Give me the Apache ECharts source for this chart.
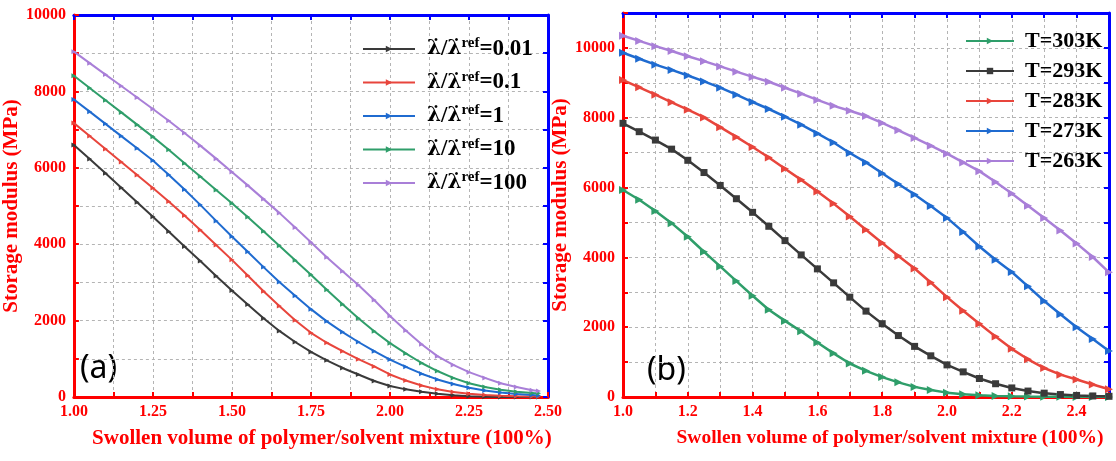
<!DOCTYPE html>
<html>
<head>
<meta charset="utf-8">
<title>Storage modulus vs swollen volume</title>
<script src="https://cdn.jsdelivr.net/npm/echarts@6/dist/echarts.min.js"></script>
<style>
  html, body { margin: 0; padding: 0; background: #fff; }
  #chart { width: 1116px; height: 461px; }
</style>
</head>
<body>
<div id="chart"></div>
<script>
// panel (a): strain-rate ratios
var xA = [1.00, 1.05, 1.10, 1.15, 1.20, 1.25, 1.30, 1.35, 1.40, 1.45, 1.50, 1.55, 1.60, 1.65, 1.70, 1.75,
          1.80, 1.85, 1.90, 1.95, 2.00, 2.05, 2.10, 2.15, 2.20, 2.25, 2.30, 2.35, 2.40, 2.45, 2.47];
var rate001 = [6600, 6230, 5860, 5480, 5100, 4720, 4330, 3940, 3560, 3170, 2790, 2420, 2060, 1730, 1440, 1180,
               960, 760, 590, 420, 290, 200, 140, 85, 45, 20, 8, 2, 0, 0, 0];
var rate01 = [7170, 6830, 6490, 6150, 5810, 5470, 5120, 4750, 4370, 3980, 3590, 3180, 2770, 2380, 2010, 1680,
              1420, 1200, 990, 800, 590, 430, 300, 200, 130, 85, 55, 35, 20, 12, 10];
var rate1 = [7790, 7470, 7150, 6830, 6510, 6190, 5820, 5430, 5030, 4610, 4200, 3800, 3400, 3010, 2650, 2300,
             1980, 1700, 1440, 1200, 980, 790, 610, 460, 340, 240, 170, 115, 80, 50, 40];
var rate10 = [8410, 8090, 7770, 7450, 7130, 6810, 6470, 6120, 5770, 5420, 5070, 4710, 4340, 3960, 3580, 3200,
              2810, 2430, 2060, 1720, 1410, 1140, 890, 680, 500, 360, 260, 190, 140, 105, 95];
var rate100 = [9040, 8740, 8440, 8140, 7840, 7540, 7230, 6910, 6580, 6240, 5890, 5540, 5180, 4820, 4440, 4050,
               3660, 3290, 2930, 2540, 2120, 1740, 1380, 1070, 840, 650, 500, 360, 260, 175, 155];
var rateNames = ['0.01', '0.1', '1', '10', '100'];

// panel (b): temperatures
var xB = [1.00, 1.05, 1.10, 1.15, 1.20, 1.25, 1.30, 1.35, 1.40, 1.45, 1.50, 1.55, 1.60, 1.65, 1.70, 1.75,
          1.80, 1.85, 1.90, 1.95, 2.00, 2.05, 2.10, 2.15, 2.20, 2.25, 2.30, 2.35, 2.40, 2.45, 2.50];
var t303 = [5930, 5650, 5330, 4980, 4590, 4160, 3740, 3320, 2900, 2500, 2180, 1880, 1560, 1250, 960, 750,
            570, 420, 290, 200, 125, 80, 50, 30, 20, 12, 8, 5, 3, 2, 1];
var t293 = [7840, 7600, 7360, 7100, 6780, 6430, 6060, 5680, 5290, 4890, 4480, 4070, 3670, 3270, 2860, 2460,
            2100, 1760, 1450, 1180, 920, 720, 530, 380, 260, 170, 110, 70, 45, 30, 20];
var t283 = [9080, 8870, 8660, 8440, 8230, 8010, 7730, 7450, 7160, 6860, 6540, 6220, 5890, 5540, 5170, 4790,
            4410, 4040, 3680, 3280, 2860, 2470, 2100, 1730, 1380, 1080, 830, 640, 500, 360, 220];
var t273 = [9860, 9690, 9520, 9370, 9210, 9040, 8860, 8660, 8450, 8250, 8030, 7800, 7550, 7290, 6990, 6720,
            6410, 6100, 5800, 5470, 5130, 4730, 4310, 3930, 3580, 3170, 2750, 2370, 2000, 1660, 1320];
var t263 = [10350, 10200, 10050, 9910, 9760, 9620, 9470, 9320, 9170, 9030, 8860, 8690, 8510, 8340, 8200, 8050,
            7850, 7640, 7420, 7200, 6970, 6720, 6470, 6160, 5830, 5480, 5130, 4770, 4400, 4010, 3570];
var tempNames = ['T=303K', 'T=293K', 'T=283K', 'T=273K', 'T=263K'];

var RED = '#ff0000', BLUE = '#0000ff';
var C_BLACK = '#3a3a3a', C_RED = '#e8453c', C_BLUE = '#1f6bd0', C_GREEN = '#2f9e6a', C_PURPLE = '#a97fd8';
var serif = '"Liberation Serif", "Times New Roman", "DejaVu Serif", serif';
var xTitle = 'Swollen volume of polymer/solvent mixture (100%)';
var yTitle = 'Storage modulus (MPa)';

function pairs(xs, ys) {
    return xs.map(function (x, i) { return [x, ys[i]]; });
}

function gridLine() {
    return { show: true, lineStyle: { color: '#b4b4b4', type: [3, 3], width: 1 } };
}

function mainX(gi, step, fmt, shift, size) {
    return {
        type: 'value', gridIndex: gi, min: 1, max: 2.5, interval: step,
        name: xTitle, nameLocation: 'middle', nameGap: 31,
        nameTextStyle: { color: RED, fontFamily: serif, fontWeight: 'bold', fontSize: size, padding: [0, 0, 0, shift] },
        axisLine: { onZero: false, lineStyle: { color: RED, width: 3 } },
        axisTick: { inside: true, length: 5, lineStyle: { color: RED, width: 2 } },
        axisLabel: { color: RED, fontFamily: serif, fontWeight: 'bold', fontSize: 16, margin: 7, formatter: fmt },
        splitLine: gridLine()
    };
}

function mainY(gi, max, gap) {
    return {
        type: 'value', gridIndex: gi, min: 0, max: max, interval: 1000,
        name: yTitle, nameLocation: 'middle', nameGap: gap,
        nameTextStyle: { color: RED, fontFamily: serif, fontWeight: 'bold', fontSize: 21 },
        axisLine: { onZero: false, lineStyle: { color: RED, width: 3 } },
        axisTick: { inside: true, length: 5, lineStyle: { color: RED, width: 2 } },
        axisLabel: {
            color: RED, fontFamily: serif, fontWeight: 'bold', fontSize: 16, margin: 8,
            formatter: function (v) { return v % 2000 === 0 ? String(v) : ''; }
        },
        splitLine: gridLine()
    };
}

// blue frame axes (top / right), no labels
function frameX(gi, step) {
    return {
        type: 'value', gridIndex: gi, position: 'top', min: 1, max: 2.5, interval: step,
        axisLine: { onZero: false, lineStyle: { color: BLUE, width: 3 } },
        axisTick: { inside: true, length: 5, lineStyle: { color: BLUE, width: 2 } },
        axisLabel: { show: false }, splitLine: { show: false }
    };
}
function frameY(gi, max) {
    return {
        type: 'value', gridIndex: gi, position: 'right', min: 0, max: max, interval: 1000,
        axisLine: { onZero: false, lineStyle: { color: BLUE, width: 3 } },
        axisTick: { inside: true, length: 5, lineStyle: { color: BLUE, width: 2 } },
        axisLabel: { show: false }, splitLine: { show: false }
    };
}

function lineSeries(name, gi, data, color, symbol, size, width) {
    return {
        name: name, type: 'line', xAxisIndex: gi, yAxisIndex: gi, data: data,
        symbol: symbol, symbolSize: size, symbolRotate: symbol === 'triangle' ? -90 : 0,
        lineStyle: { color: color, width: width },
        itemStyle: { color: color },
        z: 3
    };
}

var lam = '\u03BB\u0307';
var chart = echarts.init(document.getElementById('chart'));
var option = {
    backgroundColor: '#fff',
    animation: false,
    grid: [
        { left: 72, right: 568, top: 15, bottom: 64 },
        { left: 623, right: 7, top: 13, bottom: 64 }
    ],
    xAxis: [
        mainX(0, 0.125, function (v) { return Math.abs(v * 4 - Math.round(v * 4)) < 1e-6 ? v.toFixed(2) : ''; }, 22, 21),
        mainX(1, 0.1, function (v) { return Math.round(v * 10) % 2 === 0 ? v.toFixed(1) : ''; }, 48, 19.5),
        frameX(0, 0.125),
        frameX(1, 0.1)
    ],
    yAxis: [
        mainY(0, 10000, 38),
        mainY(1, 11000, 38),
        frameY(0, 10000),
        frameY(1, 11000)
    ],
    legend: [
        {
            data: rateNames, orient: 'vertical', left: 357, top: 31,
            itemWidth: 52, itemHeight: 8, itemGap: 9,
            formatter: function (n) { return '{l|' + lam + '}{a|/}{l|' + lam + '}{s|ref}{a|=' + n + '}'; },
            textStyle: {
                padding: [0, 0, 0, 7],
                rich: {
                    l: { fontFamily: '"DejaVu Serif", serif', fontWeight: 'bold', fontSize: 20, color: '#000', lineHeight: 26 },
                    a: { fontFamily: serif, fontWeight: 'bold', fontSize: 23, color: '#000', lineHeight: 26 },
                    s: { fontFamily: serif, fontWeight: 'bold', fontSize: 15, color: '#000', lineHeight: 26, verticalAlign: 'top' }
                }
            }
        },
        {
            data: tempNames, orient: 'vertical', left: 960, top: 24,
            itemWidth: 48, itemHeight: 8, itemGap: 6,
            textStyle: { fontFamily: serif, fontWeight: 'bold', fontSize: 22, color: '#000', lineHeight: 24, padding: [0, 0, 0, 6] }
        }
    ],
    graphic: [
        { type: 'text', left: 80, top: 353, style: { text: '(a)', font: '32px "Noto Sans", "Open Sans", sans-serif', fill: '#000' } },
        { type: 'text', left: 647, top: 355, style: { text: '(b)', font: '32px "Noto Sans", "Open Sans", sans-serif', fill: '#000' } }
    ],
    series: [
        lineSeries('0.01', 0, pairs(xA, rate001), C_BLACK, 'triangle', 5, 2),
        lineSeries('0.1', 0, pairs(xA, rate01), C_RED, 'triangle', 5, 2),
        lineSeries('1', 0, pairs(xA, rate1), C_BLUE, 'triangle', 5, 2),
        lineSeries('10', 0, pairs(xA, rate10), C_GREEN, 'triangle', 5, 2),
        lineSeries('100', 0, pairs(xA, rate100), C_PURPLE, 'triangle', 5, 2),
        lineSeries('T=303K', 1, pairs(xB, t303), C_GREEN, 'triangle', 8, 2.5),
        lineSeries('T=293K', 1, pairs(xB, t293), C_BLACK, 'rect', 7, 2.5),
        lineSeries('T=283K', 1, pairs(xB, t283), C_RED, 'triangle', 8, 2.5),
        lineSeries('T=273K', 1, pairs(xB, t273), C_BLUE, 'triangle', 8, 2.5),
        lineSeries('T=263K', 1, pairs(xB, t263), C_PURPLE, 'triangle', 8, 2.5)
    ]
};
chart.setOption(option);
</script>
</body>
</html>
